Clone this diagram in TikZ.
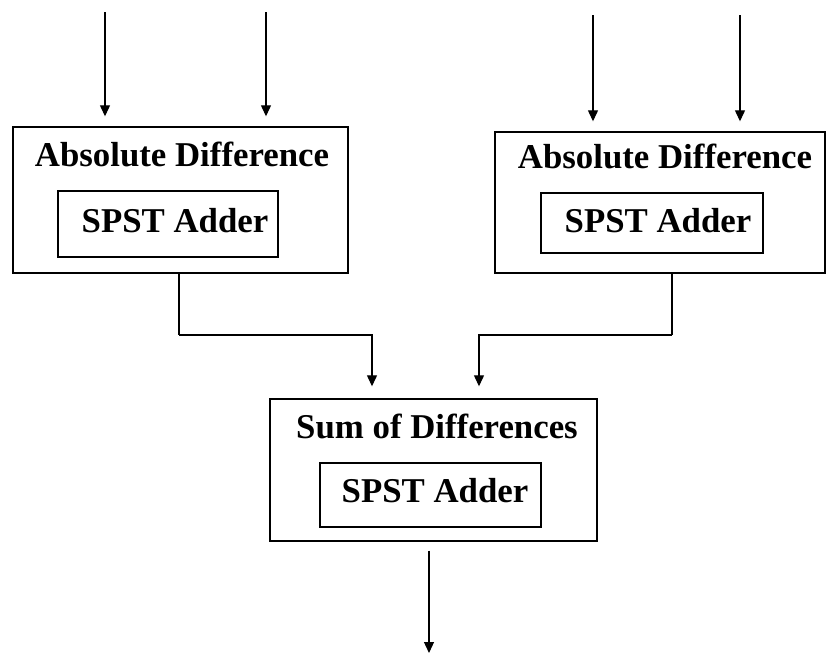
\documentclass[tikz,border=0pt]{standalone}
\usepackage{fontspec}
\setmainfont{Liberation Serif}
\usetikzlibrary{arrows.meta}
\begin{document}
\begin{tikzpicture}[x=0.5pt,y=-0.5pt,
  outerbox/.style={draw,line width=0.7pt,inner sep=0pt},
  innerbox/.style={draw,line width=0.6pt,inner sep=0pt},
  lbl/.style={font=\fontsize{17.4}{20}\selectfont\bfseries,anchor=base,inner sep=0pt},
  flow/.style={line width=0.6pt,-{Triangle[width=5pt,length=5.5pt]}},
  link/.style={line width=0.6pt}]
\useasboundingbox (0,0) rectangle (826,655);

% boxes
\node[outerbox,minimum width=167.5pt,minimum height=73pt] (absA) at (180.5,200) {};
\node[innerbox,minimum width=110pt,minimum height=33pt] (addA) at (168,224) {};
\node[outerbox,minimum width=165pt,minimum height=70.5pt] (absB) at (660,202.5) {};
\node[innerbox,minimum width=111pt,minimum height=30pt] (addB) at (652,223) {};
\node[outerbox,minimum width=163.5pt,minimum height=71pt] (sum) at (433.5,470) {};
\node[innerbox,minimum width=110.5pt,minimum height=32pt] (addS) at (430.5,495) {};

% labels
\node[lbl] (tA) at (182,166) {Absolute Difference};
\node[lbl] (sA) at (175,232) {SPST Adder};
\node[lbl] (tB) at (665,168) {Absolute Difference};
\node[lbl] (sB) at (658,232) {SPST Adder};
\node[lbl] (tS) at (437,438) {Sum of Differences};
\node[lbl] (sS) at (435,502) {SPST Adder};

% inputs
\coordinate (inA1) at (105,12);
\coordinate (inA2) at (266,12);
\coordinate (inB1) at (593,15);
\coordinate (inB2) at (740,15);
\draw[flow,shorten >=5pt] (inA1) -- (inA1 |- absA.north);
\draw[flow,shorten >=5pt] (inA2) -- (inA2 |- absA.north);
\draw[flow,shorten >=5pt] (inB1) -- (inB1 |- absB.north);
\draw[flow,shorten >=5pt] (inB2) -- (inB2 |- absB.north);

% differences into the sum
\coordinate (bendA) at (179,335);
\coordinate (bendB) at (672,335);
\coordinate (dropA) at (372,335);
\coordinate (dropB) at (479,335);
\draw[link] (bendA |- absA.south) -- (bendA);
\draw[flow,shorten >=6pt] (bendA) -- (dropA) -- (dropA |- sum.north);
\draw[link] (bendB |- absB.south) -- (bendB);
\draw[flow,shorten >=6pt] (bendB) -- (dropB) -- (dropB |- sum.north);

% output
\coordinate (out) at (429,653);
\draw[flow,shorten <=4.5pt] (out |- sum.south) -- (out);
\end{tikzpicture}
\end{document}
